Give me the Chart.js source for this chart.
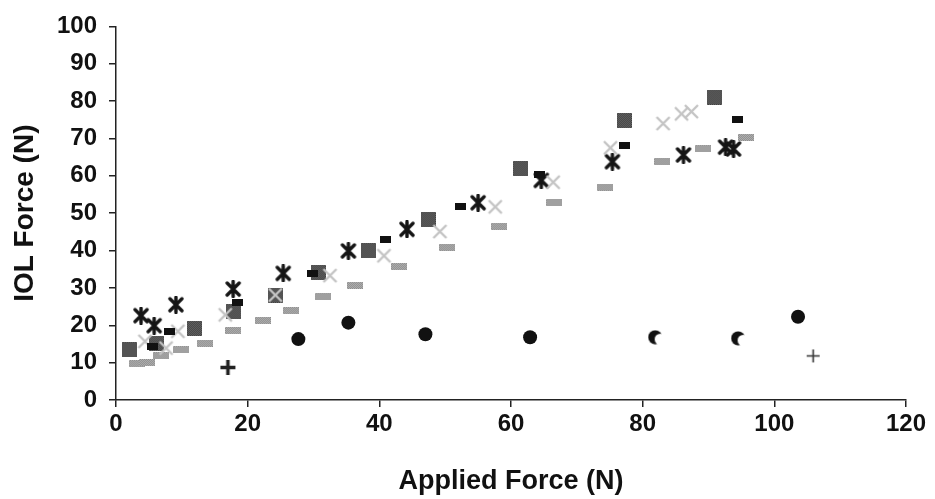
<!DOCTYPE html>
<html>
<head>
<meta charset="utf-8">
<script src="https://cdn.jsdelivr.net/npm/chart.js@4.4.0/dist/chart.umd.min.js"></script>
<style>
  html, body { margin: 0; padding: 0; background: #fff; }
</style>
</head>
<body>
<canvas id="chart" width="935" height="499"></canvas>
<script>
// values
const squareX = [2.0, 6.1, 11.9, 17.8, 24.2, 30.7, 38.3, 47.4, 61.5, 77.2, 90.9];
const squareY = [13.4, 15.2, 19.2, 23.6, 28.1, 34.1, 39.9, 48.3, 61.9, 74.8, 81.1];

const dashX = [5.6, 8.2, 18.5, 29.8, 41.0, 52.4, 64.4, 77.2, 94.4];
const dashY = [14.2, 18.4, 26.0, 33.9, 43.0, 51.7, 60.4, 68.0, 75.1];

const starX = [3.8, 5.8, 9.1, 17.8, 25.4, 35.3, 44.2, 55.0, 64.6, 75.4, 86.2, 92.6, 93.8];
const starY = [22.6, 19.9, 25.5, 29.7, 33.9, 39.9, 45.7, 52.8, 58.8, 63.8, 65.6, 67.7, 67.2];

const crossX = [4.4, 7.6, 9.4, 16.6, 24.2, 32.5, 40.7, 49.2, 57.6, 66.4, 75.1, 83.1, 85.9, 87.4];
const crossY = [15.7, 13.9, 18.4, 22.8, 28.1, 33.3, 38.6, 45.1, 51.7, 58.3, 67.5, 74.0, 76.6, 77.2];

const barX = [3.2, 4.7, 6.8, 9.9, 13.5, 17.8, 22.3, 26.6, 31.5, 36.3, 43.0, 50.3, 58.2, 66.6, 74.3, 83.0, 89.2, 95.7];
const barY = [9.7, 10.0, 11.8, 13.4, 15.2, 18.6, 21.3, 23.9, 27.6, 30.7, 35.7, 40.9, 46.5, 52.8, 57.0, 63.8, 67.2, 70.3];

const dotX = [27.7, 35.3, 47.0, 62.9, 81.9, 94.5, 103.6];
const dotY = [16.3, 20.7, 17.6, 16.8, 16.8, 16.5, 22.3];

const plusX = [17.0, 105.9];
const plusY = [8.7, 11.8];

const xTicks = [0, 20, 40, 60, 80, 100, 120];
const yTicks = [0, 10, 20, 30, 40, 50, 60, 70, 80, 90, 100];

const pts = (xs, ys) => xs.map((x, i) => ({x: x, y: ys[i]}));

// little marker pictures
function mk(w, h, draw) {
  const c = document.createElement('canvas');
  c.width = w; c.height = h;
  draw(c.getContext('2d'), w, h);
  return c;
}
function dither(ctx, w, h, a, b) {
  ctx.fillStyle = a;
  ctx.fillRect(0, 0, w, h);
  ctx.fillStyle = b;
  for (let i = 0; i < w; i++)
    for (let j = 0; j < h; j++)
      if ((i + j) % 2 === 0) ctx.fillRect(i, j, 1, 1);
}
const squareImg = mk(15, 15, (c, w, h) => dither(c, w, h, '#3e3e3e', '#6a6a6a'));
const dashImg = mk(11, 7, (c, w, h) => { c.fillStyle = '#111'; c.fillRect(0, 0, w, h); });
const barImg = mk(16, 7, (c, w, h) => dither(c, w, h, '#8c8c8c', '#b4b4b4'));
const starImg = mk(18, 18, (c) => {
  c.strokeStyle = '#151515'; c.lineWidth = 3.4; c.lineCap = 'round';
  c.beginPath();
  c.moveTo(3, 3); c.lineTo(15, 15);
  c.moveTo(15, 3); c.lineTo(3, 15);
  c.moveTo(9, 1.5); c.lineTo(9, 16.5);
  c.stroke();
});
const crossImg = mk(17, 17, (c) => {
  c.strokeStyle = '#c4c4c4'; c.lineWidth = 2.4;
  c.beginPath();
  c.moveTo(2, 2); c.lineTo(15, 15);
  c.moveTo(15, 2); c.lineTo(2, 15);
  c.stroke();
});
const moonImg = mk(15, 15, (c) => {
  c.fillStyle = '#111';
  c.beginPath(); c.arc(7.5, 7.5, 7, 0, Math.PI * 2); c.fill();
  c.globalCompositeOperation = 'destination-out';
  c.beginPath(); c.arc(12.5, 9.5, 5.5, 0, Math.PI * 2); c.fill();
});
const plusBold = mk(17, 17, (c) => {
  c.strokeStyle = '#222'; c.lineWidth = 3.5;
  c.beginPath(); c.moveTo(1, 8.5); c.lineTo(16, 8.5); c.moveTo(8.5, 1); c.lineTo(8.5, 16); c.stroke();
});
const plusThin = mk(15, 15, (c) => {
  c.strokeStyle = '#333'; c.lineWidth = 1.6;
  c.beginPath(); c.moveTo(1, 7.5); c.lineTo(14, 7.5); c.moveTo(7.5, 1); c.lineTo(7.5, 14); c.stroke();
});

const font = 'Liberation Sans, Arial, sans-serif';

new Chart(document.getElementById('chart'), {
  type: 'scatter',
  data: {
    datasets: [
      {data: pts(dashX, dashY), pointStyle: dashImg},
      {data: pts(crossX, crossY), pointStyle: crossImg},
      {data: pts(starX, starY), pointStyle: starImg},
      {data: pts(squareX, squareY), pointStyle: squareImg},
      {data: pts(barX, barY), pointStyle: barImg},
      {data: pts(dotX, dotY), pointStyle: ['circle', 'circle', 'circle', 'circle', moonImg, moonImg, 'circle'],
       pointRadius: 7, backgroundColor: '#111', borderColor: '#111', borderWidth: 0},
      {data: pts(plusX, plusY), pointStyle: [plusBold, plusThin]}
    ]
  },
  options: {
    responsive: false,
    animation: false,
    devicePixelRatio: 1,
    layout: {padding: {left: 0, right: 29, top: 19, bottom: 0}},
    plugins: {legend: {display: false}, tooltip: {enabled: false}},
    elements: {point: {radius: 3, hoverRadius: 3}},
    scales: {
      x: {
        type: 'linear', min: 0, max: 120,
        afterBuildTicks: (s) => { s.ticks = xTicks.map(v => ({value: v})); },
        afterFit: (s) => { s.height = 99; },
        border: {display: true, color: '#222', width: 1.5},
        grid: {drawOnChartArea: false, drawTicks: true, tickLength: 7, color: '#222', lineWidth: 1.5},
        ticks: {color: '#111', padding: 3, maxRotation: 0, font: {family: font, size: 24, weight: 'bold'}},
        title: {display: true, text: 'Applied Force (N)', color: '#111',
                padding: {top: 0, bottom: 1}, font: {family: font, size: 27, weight: 'bold'}}
      },
      y: {
        type: 'linear', min: 0, max: 100,
        afterBuildTicks: (s) => { s.ticks = yTicks.map(v => ({value: v})); },
        afterFit: (s) => { s.width = 116; },
        border: {display: true, color: '#222', width: 1.5},
        grid: {drawOnChartArea: false, drawTicks: true, tickLength: 7, color: '#222', lineWidth: 1.5},
        ticks: {color: '#111', padding: 12, font: {family: font, size: 24, weight: 'bold'}},
        title: {display: true, text: 'IOL Force (N)', color: '#111',
                padding: {top: 8, bottom: 0}, font: {family: font, size: 28, weight: 'bold'}}
      }
    }
  }
});
</script>
</body>
</html>
